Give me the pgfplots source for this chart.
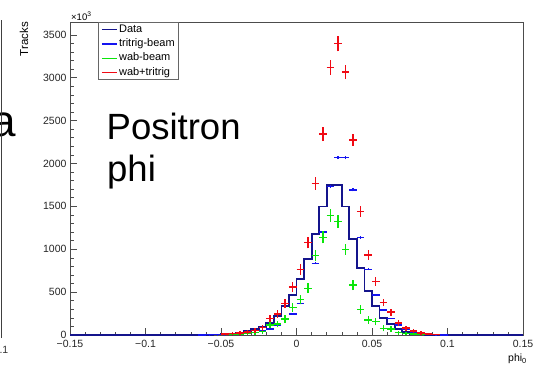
\documentclass[border=0pt]{standalone}
\usepackage{fontspec}
\setmainfont{Liberation Sans}
\usepackage{pgfplots}
\pgfplotsset{compat=1.18}
\usepackage{pgfplotstable}
\definecolor{navyc}{RGB}{20,20,140}
\definecolor{bluec}{RGB}{20,20,240}
\definecolor{greenc}{RGB}{10,230,10}
\definecolor{redc}{RGB}{240,10,20}

\pgfplotstableread{
x y
-0.150 0
-0.085 0
-0.080 1
-0.075 1
-0.070 2
-0.065 3
-0.060 4
-0.055 6
-0.050 9
-0.045 16
-0.040 23
-0.035 43
-0.030 66
-0.025 97
-0.020 144
-0.015 222
-0.010 338
-0.005 463
0.000 650
0.005 883
0.010 1175
0.015 1498
0.020 1747
0.025 1747
0.030 1498
0.035 1117
0.040 778
0.045 515
0.050 338
0.055 202
0.060 124
0.065 66
0.070 35
0.075 16
0.080 7
0.085 4
0.090 2
0.095 1
0.100 1
0.105 0
0.150 0
}\datahist

\pgfplotstableread{
x y ey
-0.0625 2 0.6
-0.0575 3 0.7
-0.0525 4 0.8
-0.0475 5 0.9
-0.0425 7 1.1
-0.0375 10 1.3
-0.0325 17 1.6
-0.0275 28 2.1
-0.0225 45 2.7
-0.0175 72 3.4
-0.0125 118 4.3
-0.0075 183 5.4
-0.0025 243 6.2
0.0025 365 7.6
0.0075 545 9.3
0.0125 837 11.6
0.0175 1200 13.9
0.0225 1731 16.6
0.0275 2070 18.2
0.0325 2070 18.2
0.0375 1692 16.5
0.0425 1136 13.5
0.0475 767 11.1
0.0525 467 8.6
0.0575 292 6.8
0.0625 195 5.6
0.0675 117 4.3
0.0725 66 3.2
0.0775 35 2.4
0.0825 16 1.6
0.0875 7 1.1
0.0925 3 0.7
0.0975 1 0.4
}\tritrig

\pgfplotstableread{
x y ey
-0.0425 8 8
-0.0375 12 12
-0.0325 18 18
-0.0275 28 24
-0.0225 39 28
-0.0175 117 39
-0.0125 128 40
-0.0075 187 44
-0.0025 323 51
0.0025 412 54
0.0075 545 58
0.0125 925 66
0.0175 1138 70
0.0225 1395 73
0.0275 1322 72
0.0325 1000 67
0.0375 583 59
0.0425 300 50
0.0475 175 44
0.0525 155 42
0.0575 78 36
0.0625 70 35
0.0675 27 24
0.0725 20 20
0.0775 10 10
0.0825 6 6
0.0875 3 3
}\wab

\pgfplotstableread{
x y ey
-0.0475 13 13
-0.0425 15 15
-0.0375 22 22
-0.0325 35 29
-0.0275 54 32
-0.0225 86 35
-0.0175 192 45
-0.0125 245 46
-0.0075 365 51
-0.0025 560 59
0.0025 767 62
0.0075 1077 66
0.0125 1770 76
0.0175 2342 81
0.0225 3119 86
0.0275 3396 88
0.0325 3065 82
0.0375 2276 70
0.0425 1439 62
0.0475 934 55
0.0525 622 50
0.0575 380 44
0.0625 266 41
0.0675 142 33
0.0725 80 29
0.0775 46 25
0.0825 24 22
0.0875 11 11
0.0925 5 5
}\wabtri

\pgfplotsset{
  hbar/.style={draw=#1, line width=1.4pt, forget plot,
    quiver={u=0.005, v=0, every arrow/.append style={-}}},
  vbar/.style={draw=#1, line width=1.4pt, forget plot,
    quiver={u=0, v=2*\thisrow{ey}, every arrow/.append style={-}}},
}

\begin{document}
\begin{tikzpicture}
\useasboundingbox (0,0) rectangle (537pt,368pt);
\fill[white] (0,0) rectangle (537pt,368pt);
\begin{axis}[
  at={(70pt,33pt)}, anchor=south west,
  scale only axis, width=453pt, height=313pt,
  xmin=-0.15, xmax=0.15, ymin=0, ymax=3650,
  clip=false,
  axis line style={black!70, line width=0.6pt},
  tick align=inside, xtick pos=bottom, ytick pos=left,
  xtick={-0.15,-0.1,-0.05,0,0.05,0.1,0.15},
  xticklabels={−0.15,−0.1,−0.05,0,0.05,0.1,0.15},
  ytick={0,500,1000,1500,2000,2500,3000,3500},
  yticklabels={0,500,1000,1500,2000,2500,3000,3500},
  minor x tick num=4, minor y tick num=4,
  major tick length=7pt, minor tick length=3.5pt,
  tick style={black!70, line width=0.6pt},
  ticklabel style={font=\fontsize{10.5}{12}\selectfont, text=black!85},
  xticklabel style={yshift=-2pt},
  legend cell align=left,
  legend image code/.code={\draw[#1] (0pt,0pt) -- (15pt,0pt);},
  legend style={at={(0.0625,1)}, anchor=north west, draw=black!60, line width=0.7pt,
    fill=white, font=\fontsize{11}{13}\selectfont, inner xsep=2.5pt, inner ysep=0.5pt,
    row sep=0.8pt, nodes={inner sep=1.5pt, text height=8pt, text depth=2.5pt}},
]
\addplot[const plot, draw=navyc, line width=1.8pt, forget plot] table[x=x, y=y] {\datahist};
\addplot[hbar=bluec] table[x expr=\thisrow{x}-0.0025, y=y] {\tritrig};
\addplot[vbar=bluec] table[x=x, y expr=\thisrow{y}-\thisrow{ey}] {\tritrig};
\addplot[hbar=greenc] table[x expr=\thisrow{x}-0.0025, y=y] {\wab};
\addplot[vbar=greenc] table[x=x, y expr=\thisrow{y}-\thisrow{ey}] {\wab};
\addplot[hbar=redc] table[x expr=\thisrow{x}-0.0025, y=y] {\wabtri};
\addplot[vbar=redc] table[x=x, y expr=\thisrow{y}-\thisrow{ey}] {\wabtri};
\addlegendimage{draw=navyc, line width=1.4pt}\addlegendentry{Data}
\addlegendimage{draw=bluec, line width=1.4pt}\addlegendentry{tritrig-beam}
\addlegendimage{draw=greenc, line width=1.4pt}\addlegendentry{wab-beam}
\addlegendimage{draw=redc, line width=1.4pt}\addlegendentry{wab+tritrig}
\end{axis}
\node[anchor=base west, inner sep=0pt, font=\fontsize{9.5}{11}\selectfont] at (71pt,348pt) {×10\textsuperscript{3}};
\node[rotate=90, anchor=base east, inner sep=0pt, font=\fontsize{11.5}{13}\selectfont] at (28pt,346pt) {Tracks};
\node[anchor=base east, inner sep=0pt, font=\fontsize{10.5}{12}\selectfont] at (527pt,6.5pt) {phi\textsubscript{0}};
\node[anchor=base west, inner sep=0pt, font=\fontsize{36.5}{42}\selectfont] at (106.5pt,228.7pt) {Positron};
\node[anchor=base west, inner sep=0pt, font=\fontsize{36.5}{42}\selectfont] at (107pt,187pt) {phi};
\node[anchor=base east, inner sep=0pt, font=\fontsize{44}{50}\selectfont] at (16pt,231.3pt) {a};
\draw[black!75, line width=1.2pt] (1.5pt,30pt) -- (1.5pt,348pt);
\node[anchor=base east, inner sep=0pt, font=\fontsize{10.5}{12}\selectfont, text=black!80] at (8.5pt,15pt) {0.1};
\end{tikzpicture}
\end{document}
